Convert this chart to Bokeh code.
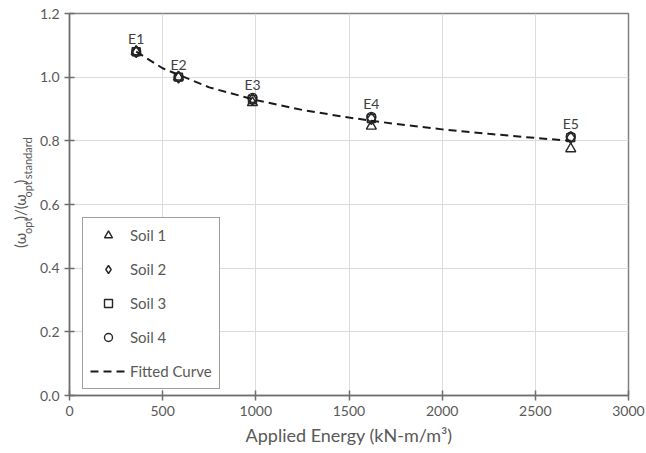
import math
from bokeh.plotting import figure
from bokeh.layouts import row
from bokeh.models import (Range1d, FixedTicker, NumeralTickFormatter, Legend, LegendItem,
                          LabelSet, ColumnDataSource)
from bokeh.core.properties import value
from bokeh.embed import file_html
from bokeh.resources import INLINE

# ---------------- data ----------------
energy = [358, 585, 982, 1620, 2690]
point_labels = ["E1", "E2", "E3", "E4", "E5"]
soil1 = [1.08, 1.00, 0.92, 0.846, 0.775]
soil2 = [1.08, 1.00, 0.93, 0.870, 0.810]
soil3 = [1.08, 1.00, 0.93, 0.870, 0.810]
soil4 = [1.08, 1.00, 0.935, 0.875, 0.813]
curve_x = [358, 500, 750, 1000, 1250, 1500, 1750, 2000, 2250, 2500, 2690]
curve_y = [1.08, 1.028, 0.968, 0.928, 0.897, 0.873, 0.853, 0.836, 0.822, 0.809, 0.800]
x_ticks = [0, 500, 1000, 1500, 2000, 2500, 3000]
y_ticks = [0.0, 0.2, 0.4, 0.6, 0.8, 1.0, 1.2]
y_title_parts = ["(ω", "opt", ")/(ω", "opt", ")", "standard"]
y_title_is_sub = [False, True, False, True, False, True]

FONT = "Lato"
GRAY_TXT = "#595959"
MK = "#262626"
LEFT_W = 36
H = 453

p = figure(width=646 - LEFT_W, height=H, output_backend="svg", toolbar_location=None,
           x_range=Range1d(0, 3000), y_range=Range1d(0, 1.2),
           min_border_left=66 - LEFT_W, min_border_right=18, min_border_top=13, min_border_bottom=58)
p.outline_line_color = "#808080"
p.outline_line_width = 1.5
p.background_fill_color = "white"
p.border_fill_color = "white"

for g in (p.xgrid[0], p.ygrid[0]):
    g.grid_line_color = "#dcdcdc"
    g.grid_line_width = 1

p.xaxis.ticker = FixedTicker(ticks=x_ticks)
p.yaxis.ticker = FixedTicker(ticks=y_ticks)
p.xgrid.ticker = FixedTicker(ticks=x_ticks)
p.ygrid.ticker = FixedTicker(ticks=y_ticks)
p.xaxis.formatter = NumeralTickFormatter(format="0")
p.yaxis.formatter = NumeralTickFormatter(format="0.0")

for ax in (p.xaxis[0], p.yaxis[0]):
    ax.axis_line_color = "#6e6e6e"
    ax.axis_line_width = 1.5
    ax.major_tick_line_color = "#6e6e6e"
    ax.major_tick_line_width = 1.5
    ax.major_tick_in = 5
    ax.major_tick_out = 5
    ax.minor_tick_line_color = None
    ax.major_label_text_font = FONT
    ax.major_label_text_font_size = "14px"
    ax.major_label_text_color = GRAY_TXT

p.yaxis.major_label_standoff = 5
p.xaxis.major_label_standoff = 5
p.xaxis.axis_label = "Applied Energy (kN-m/m³)"
p.xaxis.axis_label_text_font = FONT
p.xaxis.axis_label_text_font_size = "18px"
p.xaxis.axis_label_text_font_style = "normal"
p.xaxis.axis_label_text_color = GRAY_TXT
p.xaxis.axis_label_standoff = 5
p.yaxis.axis_label = None

src = ColumnDataSource(dict(x=energy, s1=soil1, s2=soil2, s3=soil3, s4=soil4,
                            top=[max(a, b, c, d) for a, b, c, d in zip(soil1, soil2, soil3, soil4)],
                            lab=point_labels))

r1 = p.scatter("x", "s1", source=src, marker="triangle", size=10, fill_alpha=0,
               line_color=MK, line_width=1.4)
r2 = p.scatter("x", "s2", source=src, marker="diamond", size=12, fill_alpha=0,
               line_color=MK, line_width=1.4)
r3 = p.scatter("x", "s3", source=src, marker="square", size=8, fill_alpha=0,
               line_color=MK, line_width=1.4)
r4 = p.scatter("x", "s4", source=src, marker="circle", size=9, fill_alpha=0,
               line_color=MK, line_width=1.4)
r5 = p.line(curve_x, curve_y, line_color="#1a1a1a", line_width=2, line_dash="8 5")

labels = LabelSet(x="x", y="top", text="lab", source=src, y_offset=13,
                  text_align="center", text_baseline="middle",
                  text_font=value(FONT), text_font_size="14px", text_color="#404040")
p.add_layout(labels)

legend = Legend(items=[LegendItem(label="Soil 1", renderers=[r1]),
                       LegendItem(label="Soil 2", renderers=[r2]),
                       LegendItem(label="Soil 3", renderers=[r3]),
                       LegendItem(label="Soil 4", renderers=[r4]),
                       LegendItem(label="Fitted Curve", renderers=[r5])],
                location=(13, 6))
legend.glyph_width = 36
legend.glyph_height = 20
legend.label_height = 20
legend.label_standoff = 4
legend.spacing = 14
legend.padding = 7
legend.margin = 0
legend.border_line_color = "#404040"
legend.border_line_width = 1.5
legend.background_fill_color = "white"
legend.background_fill_alpha = 1
legend.label_text_font = FONT
legend.label_text_font_size = "15px"
legend.label_text_color = GRAY_TXT
p.add_layout(legend)

# ---- y axis title with subscripts: a narrow side panel drawn as text pieces ----
side = figure(width=LEFT_W, height=H, output_backend="svg", toolbar_location=None,
              x_range=Range1d(0, LEFT_W), y_range=Range1d(H, 0),
              min_border=0, min_border_left=0, min_border_right=0,
              min_border_top=0, min_border_bottom=0)
side.axis.visible = False
side.grid.visible = False
side.outline_line_color = None
side.background_fill_color = "white"
side.border_fill_color = "white"

EM = {"(": 0.31, ")": 0.31, "/": 0.37, "ω": 0.76, "o": 0.54, "p": 0.55, "t": 0.34,
      "s": 0.41, "a": 0.49, "n": 0.54, "d": 0.55, "r": 0.36}
MAIN_FS, SUB_FS = 15, 11
MAIN_X, SUB_X = 19, 27
lens = [sum(EM.get(c, 0.5) for c in part) * (SUB_FS if s else MAIN_FS) + 0.6
        for part, s in zip(y_title_parts, y_title_is_sub)]
cursor = 278.0
tx, ty, tfs = [], [], []
for part, is_sub, ln in zip(y_title_parts, y_title_is_sub, lens):
    fs = SUB_FS if is_sub else MAIN_FS
    tx.append(SUB_X if is_sub else MAIN_X)
    ty.append(cursor)
    tfs.append(f"{fs}px")
    cursor -= ln

tsrc = ColumnDataSource(dict(x=tx, y=ty, t=y_title_parts, fs=tfs))
side.text("x", "y", text="t", source=tsrc, angle=math.pi / 2,
          text_align="left", text_baseline="middle",
          text_font=value(FONT), text_font_size="fs", text_color=GRAY_TXT)

layout = row(side, p, spacing=0)
open("out.html", "w").write(file_html(layout, INLINE))
